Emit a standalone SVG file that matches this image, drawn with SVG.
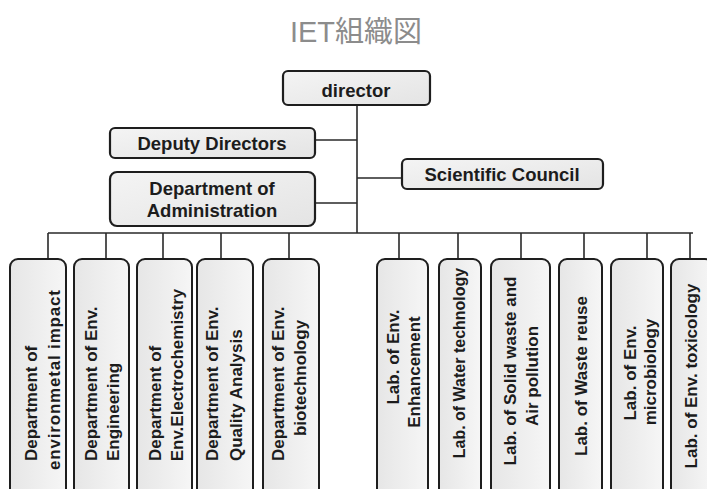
<svg xmlns="http://www.w3.org/2000/svg" width="707" height="489" viewBox="0 0 707 489">
<defs>
<linearGradient id="gh" x1="0" y1="0" x2="1" y2="1">
<stop offset="0" stop-color="#f4f4f4"/>
<stop offset="1" stop-color="#e4e4e4"/>
</linearGradient>
<linearGradient id="gv" x1="0" y1="0" x2="1" y2="0">
<stop offset="0" stop-color="#e6e6e6"/>
<stop offset="1" stop-color="#f6f6f6"/>
</linearGradient>
<style>
.hb{fill:url(#gh);stroke:#1e1e1e;stroke-width:2.2}
.vb{fill:url(#gv);stroke:#1e1e1e;stroke-width:2}
.ht{font-family:"Liberation Sans",Arial,sans-serif;font-weight:bold;font-size:18.5px;fill:#1c1c1c;text-anchor:middle}
.vt{font-family:"Liberation Sans",Arial,sans-serif;font-weight:bold;font-size:17px;fill:#1c1c1c}
.m{text-anchor:middle}
.s{text-anchor:start}
.ln{stroke:#2a2a2a;stroke-width:1.6;fill:none}
.title{font-family:"Liberation Sans","Noto Sans CJK JP",sans-serif;font-size:29px;fill:#8c8c8c;text-anchor:middle}
</style>
</defs>
<rect width="707" height="489" fill="#ffffff"/>
<text class="title" x="356" y="42">IET組織図</text>

<g id="connectors">
<path class="ln" d="M357 105V233M315 140H357M315 203H357M357 178H402M48 233H693"/>
<path class="ln" d="M48 233V259M106 233V259M163 233V259M221 233V259M289 233V259M399 233V259M458 233V259M521 233V259M584 233V259M647 233V259M690 233V259"/>
</g>

<g id="director"><rect class="hb" x="283" y="71" width="147" height="34" rx="5"/><text class="ht" x="356" y="97">director</text></g>
<g id="deputy"><rect class="hb" x="110" y="128" width="205" height="30" rx="5"/><text class="ht" x="212" y="150">Deputy Directors</text></g>
<g id="admin"><rect class="hb" x="110" y="172" width="205" height="54" rx="7"/><text class="ht" x="212" y="195">Department of</text><text class="ht" x="212" y="217">Administration</text></g>
<g id="council"><rect class="hb" x="402" y="159" width="201" height="30" rx="5"/><text class="ht" x="502" y="181">Scientific Council</text></g>

<g id="d1"><rect class="vb" x="10" y="259" width="56" height="240" rx="8"/>
<text class="vt s" transform="translate(37,461) rotate(-90)">Department of</text>
<text class="vt m" transform="translate(60,380) rotate(-90)" textLength="180" lengthAdjust="spacing">environmetal impact</text></g>
<g id="d2"><rect class="vb" x="74" y="259" width="55" height="240" rx="8"/>
<text class="vt s" transform="translate(97,461) rotate(-90)">Department of Env.</text>
<text class="vt s" transform="translate(119,461) rotate(-90)">Engineering</text></g>
<g id="d3"><rect class="vb" x="137" y="259" width="55" height="240" rx="8"/>
<text class="vt s" transform="translate(161,461) rotate(-90)">Department of</text>
<text class="vt m" transform="translate(183,375) rotate(-90)">Env.Electrochemistry</text></g>
<g id="d4"><rect class="vb" x="197" y="259" width="56" height="240" rx="8"/>
<text class="vt s" transform="translate(218,461) rotate(-90)">Department of Env.</text>
<text class="vt s" transform="translate(242,461) rotate(-90)">Quality Analysis</text></g>
<g id="d5"><rect class="vb" x="263" y="259" width="56" height="240" rx="8"/>
<text class="vt s" transform="translate(284,461) rotate(-90)">Department of Env.</text>
<text class="vt m" transform="translate(306,378) rotate(-90)">biotechnology</text></g>

<g id="l1"><rect class="vb" x="377" y="259" width="51" height="240" rx="8"/>
<text class="vt m" transform="translate(399,357) rotate(-90)">Lab. of Env.</text>
<text class="vt m" transform="translate(420,372) rotate(-90)">Enhancement</text></g>
<g id="l2"><rect class="vb" x="439" y="259" width="42" height="240" rx="8"/>
<text class="vt m" style="font-size:16px" transform="translate(465,363) rotate(-90)">Lab. of Water technology</text></g>
<g id="l3"><rect class="vb" x="491" y="259" width="59" height="240" rx="8"/>
<text class="vt m" transform="translate(516,371) rotate(-90)">Lab. of Solid waste and</text>
<text class="vt m" transform="translate(538,376) rotate(-90)">Air pollution</text></g>
<g id="l4"><rect class="vb" x="559" y="259" width="43" height="240" rx="8"/>
<text class="vt m" transform="translate(587,376) rotate(-90)">Lab. of Waste reuse</text></g>
<g id="l5"><rect class="vb" x="611" y="259" width="52" height="240" rx="8"/>
<text class="vt m" transform="translate(636,373) rotate(-90)">Lab. of Env.</text>
<text class="vt m" transform="translate(656,372) rotate(-90)">microbiology</text></g>
<g id="l6"><rect class="vb" x="671" y="259" width="42" height="240" rx="8"/>
<text class="vt m" transform="translate(697,376) rotate(-90)">Lab. of Env. toxicology</text></g>
</svg>
